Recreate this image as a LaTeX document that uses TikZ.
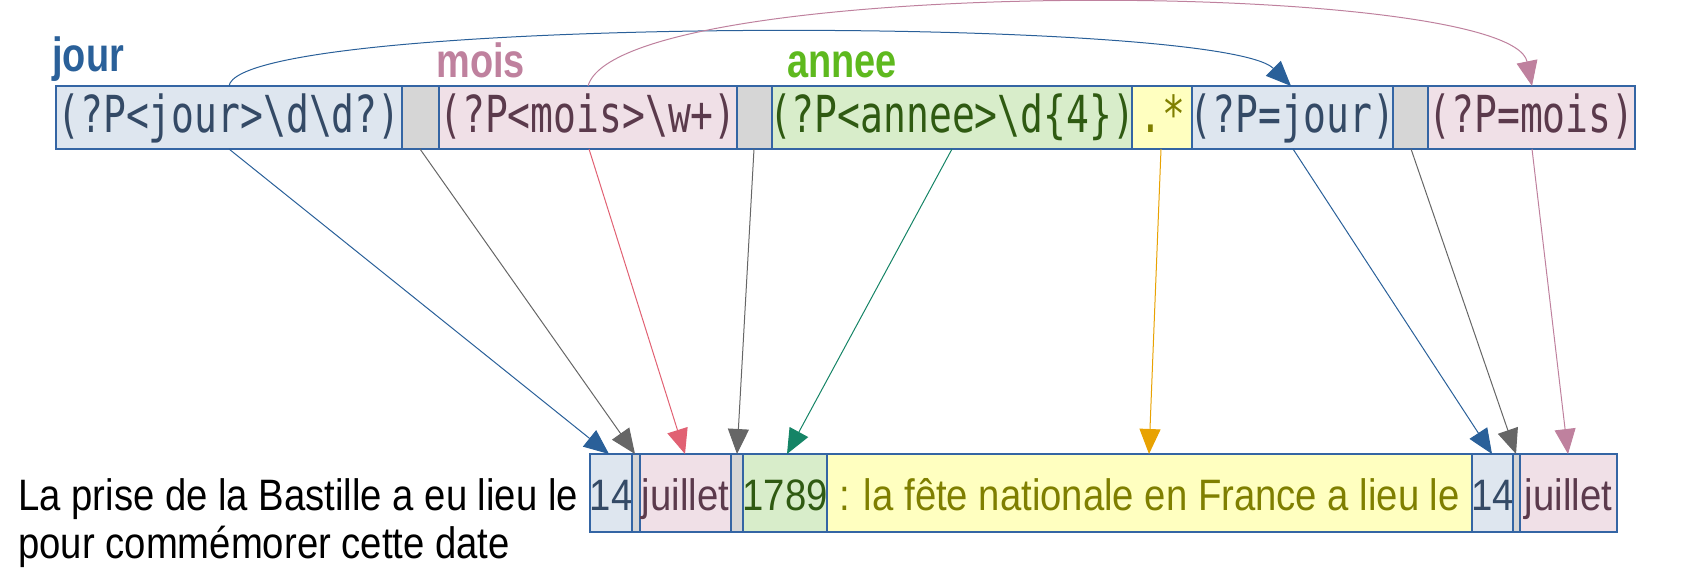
\documentclass[tikz,border=0pt]{standalone}
\usepackage{fontspec}
\setmainfont{Liberation Sans}
\newfontfamily\monofont[FakeStretch=0.745]{DejaVu Sans Mono}
\newfontfamily\labfont[FakeStretch=0.79]{Liberation Sans}
\newfontfamily\txtfont[FakeStretch=0.87]{Liberation Sans}
\usetikzlibrary{arrows.meta,calc}
\definecolor{bordercol}{HTML}{3465A4}
\definecolor{fblue}{HTML}{DEE6EF}
\definecolor{fpink}{HTML}{F0E0E7}
\definecolor{fgray}{HTML}{D6D6D6}
\definecolor{fgreen}{HTML}{D8EDCA}
\definecolor{fyellow}{HTML}{FFFFC0}
\definecolor{tblue}{HTML}{344A66}
\definecolor{tpink}{HTML}{5B3A4C}
\definecolor{tgreen}{HTML}{2F5A12}
\definecolor{tyellow}{HTML}{7F7F00}
\definecolor{ljour}{HTML}{2A6099}
\definecolor{lmois}{HTML}{BF819E}
\definecolor{lannee}{HTML}{5EB91E}
\definecolor{ablue}{HTML}{2A6099}
\definecolor{agray}{HTML}{666666}
\definecolor{ared}{HTML}{E16173}
\definecolor{agreen}{HTML}{158466}
\definecolor{aorange}{HTML}{E8A202}
\definecolor{apink}{HTML}{BF819E}
\newcommand{\ctr}[1]{\makebox[0pt]{#1}}
\tikzset{
  cell/.style={draw=bordercol, line width=0.75pt, inner sep=0pt, outer sep=0pt,
    anchor=north west},
  topcell/.style={cell, minimum height=31.5pt, text height=18pt, text depth=2.5pt,
    font=\monofont\fontsize{25.5pt}{30pt}\selectfont},
  botcell/.style={cell, minimum height=39pt, text height=19pt, text depth=2pt,
    font=\txtfont\fontsize{22pt}{26pt}\selectfont},
  lab/.style={anchor=base west, inner sep=0pt, font=\labfont\fontsize{24pt}{28pt}\selectfont\bfseries},
  plain/.style={anchor=base west, inner sep=0pt, font=\txtfont\fontsize{22pt}{26pt}\selectfont},
  conn/.style={line width=0.5pt, -{Triangle[length=12.5pt,width=10.5pt]}},
}
\begin{document}
\begin{tikzpicture}[x=0.5pt,y=-0.5pt]
\useasboundingbox (0,0) rectangle (1684,567);
% labels
\node[lab, text=ljour] (ljour) at (52,72) {jour};
\node[lab, text=lmois] (lmois) at (436,78) {mois};
\node[lab, text=lannee] (lannee) at (787,78) {annee};
% top row
\node[topcell, fill=fblue, text=tblue, minimum width=173pt] (b1) at (56,86) {\ctr{(?P<jour>\textbackslash d\textbackslash d?)}};
\node[topcell, fill=fgray, minimum width=18.5pt] (g1) at (402,86) {};
\node[topcell, fill=fpink, text=tpink, minimum width=149pt] (b2) at (439,86) {\ctr{(?P<mois>\textbackslash w+)}};
\node[topcell, fill=fgray, minimum width=17.5pt] (g2) at (737,86) {};
\node[topcell, fill=fgreen, text=tgreen, minimum width=180pt] (b3) at (772,86) {\ctr{(?P<annee>\textbackslash d\{4\})}};
\node[topcell, fill=fyellow, text=tyellow, minimum width=30pt] (b4) at (1132,86) {\ctr{.*}};
\node[topcell, fill=fblue, text=tblue, minimum width=100.5pt] (b5) at (1192,86) {\ctr{(?P=jour)}};
\node[topcell, fill=fgray, minimum width=17.5pt] (g3) at (1393,86) {};
\node[topcell, fill=fpink, text=tpink, minimum width=103.5pt] (b6) at (1428,86) {\ctr{(?P=mois)}};
% bottom text
\node[plain] (t1) at (18,510) {La prise de la Bastille a eu lieu le};
\node[plain] (t2) at (18,558) {pour commémorer cette date};
\node[botcell, fill=fblue, text=tblue, minimum width=21pt] (c1) at (590,454) {\ctr{14}};
\node[botcell, fill=fgray, minimum width=4pt] (s1) at (632,454) {};
\node[botcell, fill=fpink, text=tpink, minimum width=45.5pt] (c2) at (640,454) {\ctr{juillet}};
\node[botcell, fill=fgray, minimum width=6pt] (s2) at (731,454) {};
\node[botcell, fill=fgreen, text=tgreen, minimum width=42pt] (c3) at (743,454) {\ctr{1789}};
\node[botcell, fill=fyellow, text=tyellow, minimum width=322.5pt] (c4) at (827,454) {\ctr{: la fête nationale en France a lieu le}};
\node[botcell, fill=fblue, text=tblue, minimum width=20.5pt] (c5) at (1472,454) {\ctr{14}};
\node[botcell, fill=fgray, minimum width=3.5pt] (s3) at (1513,454) {};
\node[botcell, fill=fpink, text=tpink, minimum width=48.5pt] (c6) at (1520,454) {\ctr{juillet}};
% straight connectors
\draw[conn, ablue]   ($(b1.south west)+(173,0)$) -- ($(c1.north west)+(19,0)$);
\draw[conn, agray]   ($(g1.south west)+(18,0)$)  -- ($(s1.north west)+(3,0)$);
\draw[conn, ared]    ($(b2.south west)+(150,0)$) -- ($(c2.north west)+(45,0)$);
\draw[conn, agray]   ($(g2.south west)+(17,0)$)  -- ($(s2.north west)+(6,0)$);
\draw[conn, agreen]  ($(b3.south west)+(180,0)$) -- ($(c3.north west)+(44,0)$);
\draw[conn, aorange] ($(b4.south west)+(29,0)$)  -- ($(c4.north west)+(322,0)$);
\draw[conn, ablue]   ($(b5.south west)+(101,0)$) -- ($(c5.north west)+(20,0)$);
\draw[conn, agray]   ($(g3.south west)+(18,0)$)  -- ($(s3.north west)+(3,0)$);
\draw[conn, apink]   ($(b6.south west)+(104,0)$) -- ($(c6.north west)+(48,0)$);
% curved back-reference connectors
\draw[conn, ablue] ($(b1.north west)+(173,0)$) .. controls +(11,-71) and +(-71,-71) .. ($(b5.north west)+(99,0)$);
\draw[conn, apink] ($(b2.north west)+(149,0)$) .. controls +(32,-112) and +(-22,-108) .. ($(b6.north west)+(104,0)$);
\end{tikzpicture}
\end{document}
